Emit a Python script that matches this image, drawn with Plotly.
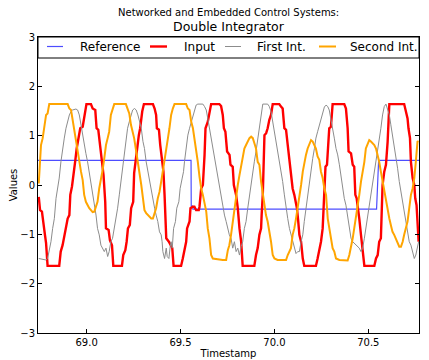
import plotly.graph_objects as go

# ---------------- data ----------------
ref_t = [68.74, 69.556, 69.557, 69.565, 69.566, 70.544, 70.555, 70.78]
ref_v = [0.5, 0.5, -0.43, -0.43, -0.49, -0.49, 0.5, 0.5]

input_t = [68.745, 68.752, 68.762, 68.769, 68.778, 68.784, 68.792, 68.854, 68.862, 68.872,
           68.881, 68.890, 68.899, 68.908, 68.913, 68.922, 68.931, 68.940, 68.947, 68.957,
           68.966, 68.979, 68.984, 68.993, 68.999, 69.023, 69.032, 69.046, 69.053, 69.062,
           69.071, 69.081, 69.090, 69.099, 69.103, 69.117, 69.124, 69.135, 69.142, 69.188,
           69.195, 69.206, 69.213, 69.220, 69.230, 69.237, 69.248, 69.253, 69.260, 69.268,
           69.278, 69.285, 69.296, 69.305, 69.353, 69.362, 69.370, 69.374, 69.385, 69.392,
           69.402, 69.409, 69.415, 69.420, 69.424, 69.438, 69.447, 69.456, 69.463, 69.503,
           69.512, 69.521, 69.530, 69.535, 69.548, 69.553, 69.565, 69.574, 69.583, 69.597,
           69.601, 69.610, 69.619, 69.628, 69.633, 69.645, 69.654, 69.663, 69.707, 69.716,
           69.725, 69.731, 69.739, 69.748, 69.761, 69.766, 69.778, 69.784, 69.796, 69.805,
           69.814, 69.823, 69.831, 69.893, 69.902, 69.911, 69.920, 69.929, 69.932, 69.938,
           69.943, 69.947, 69.956, 69.964, 69.973, 69.982, 69.991, 70.026, 70.035, 70.044,
           70.053, 70.062, 70.071, 70.080, 70.088, 70.097, 70.106, 70.115, 70.120, 70.127,
           70.133, 70.142, 70.151, 70.159, 70.221, 70.230, 70.239, 70.248, 70.257, 70.263,
           70.268, 70.272, 70.280, 70.292, 70.301, 70.310, 70.372, 70.381, 70.390, 70.395,
           70.408, 70.417, 70.425, 70.431, 70.438, 70.443, 70.452, 70.461, 70.470, 70.479,
           70.532, 70.541, 70.550, 70.558, 70.567, 70.573, 70.576, 70.585, 70.594, 70.603,
           70.608, 70.612, 70.691, 70.697, 70.709, 70.714, 70.722, 70.727, 70.736, 70.745,
           70.750, 70.757, 70.762, 70.768]
input_v = [-0.24, -0.51, -0.54, -0.81, -1.01, -1.18, -1.64, -1.64, -1.35, -1.22,
           -1.01, -0.88, -0.68, -0.61, -0.20, -0.03, 0.20, 0.51, 0.74, 0.95,
           1.15, 1.18, 1.32, 1.52, 1.64, 1.64, 1.55, 1.52, 1.15, 1.12,
           0.81, 0.47, 0.20, -0.34, -0.88, -0.91, -1.12, -1.22, -1.64, -1.64,
           -1.42, -1.32, -1.15, -0.88, -0.81, -0.47, -0.34, 0.24, 0.47, 0.81,
           1.01, 1.15, 1.49, 1.64, 1.64, 1.55, 1.42, 1.15, 1.12, 0.81,
           0.54, 0.27, -0.20, -0.61, -1.08, -1.15, -1.22, -1.28, -1.64, -1.64,
           -1.49, -1.35, -1.15, -0.88, -0.74, -0.47, -0.44, -0.44, -0.51, -0.51,
           -0.44, -0.07, 0.00, 0.61, 1.15, 1.28, 1.49, 1.64, 1.64, 1.60,
           1.42, 1.15, 1.08, 0.68, 0.61, 0.41, 0.37, 0.00, -0.20, -0.47,
           -0.88, -1.15, -1.64, -1.64, -1.42, -1.28, -1.01, -0.88, -0.61, -0.20,
           0.47, 1.01, 1.05, 1.15, 1.32, 1.42, 1.64, 1.64, 1.59, 1.55,
           1.15, 1.12, 0.81, 0.51, 0.20, -0.07, -0.20, -0.34, -0.47, -0.74,
           -1.01, -1.15, -1.49, -1.64, -1.64, -1.49, -1.35, -1.15, -0.88, -0.40,
           0.10, 0.37, 0.41, 1.15, 1.18, 1.64, 1.64, 1.55, 1.15, 0.68,
           0.64, 0.41, 0.37, -0.20, -0.27, -0.47, -0.68, -1.01, -1.28, -1.64,
           -1.64, -1.49, -1.42, -1.15, -1.08, -0.20, 0.00, 0.27, 0.41, 0.88,
           1.42, 1.64, 1.64, 1.55, 1.35, 1.15, 0.95, 0.47, 0.14, 0.00,
           -0.27, -0.41, -0.74, -1.15]

first_t = [68.745, 68.784, 68.792, 68.801, 68.810, 68.819, 68.828, 68.837, 68.846, 68.854,
           68.863, 68.872, 68.881, 68.890, 68.899, 68.908, 68.917, 68.925, 68.943, 68.952,
           68.961, 68.970, 68.979, 68.987, 68.996, 69.005, 69.014, 69.023, 69.032, 69.041,
           69.050, 69.058, 69.067, 69.076, 69.085, 69.094, 69.103, 69.112, 69.120, 69.129,
           69.138, 69.147, 69.156, 69.165, 69.174, 69.183, 69.191, 69.200, 69.209, 69.218,
           69.227, 69.236, 69.245, 69.255, 69.264, 69.273, 69.282, 69.291, 69.300, 69.308,
           69.317, 69.326, 69.335, 69.344, 69.353, 69.362, 69.370, 69.379, 69.388, 69.397,
           69.402, 69.406, 69.415, 69.424, 69.429, 69.438, 69.445, 69.450, 69.456, 69.463,
           69.473, 69.480, 69.491, 69.498, 69.509, 69.516, 69.521, 69.530, 69.539, 69.548,
           69.557, 69.566, 69.574, 69.583, 69.592, 69.619, 69.628, 69.637, 69.645, 69.654,
           69.663, 69.672, 69.681, 69.690, 69.699, 69.707, 69.716, 69.725, 69.734, 69.743,
           69.752, 69.760, 69.769, 69.778, 69.787, 69.796, 69.805, 69.814, 69.823, 69.831,
           69.840, 69.849, 69.858, 69.867, 69.876, 69.885, 69.893, 69.902, 69.911, 69.920,
           69.929, 69.938, 69.964, 69.973, 69.982, 69.991, 70.000, 70.009, 70.017, 70.026,
           70.035, 70.044, 70.053, 70.062, 70.071, 70.080, 70.088, 70.097, 70.106, 70.115,
           70.124, 70.133, 70.142, 70.151, 70.159, 70.168, 70.177, 70.186, 70.195, 70.204,
           70.213, 70.221, 70.230, 70.239, 70.248, 70.257, 70.266, 70.275, 70.284, 70.292,
           70.301, 70.310, 70.319, 70.328, 70.337, 70.346, 70.354, 70.363, 70.372, 70.381,
           70.390, 70.399, 70.408, 70.417, 70.425, 70.434, 70.443, 70.452, 70.461, 70.470,
           70.479, 70.487, 70.496, 70.505, 70.514, 70.523, 70.532, 70.541, 70.550, 70.558,
           70.567, 70.576, 70.585, 70.594, 70.603, 70.612, 70.620, 70.629, 70.638, 70.647,
           70.656, 70.665, 70.674, 70.683, 70.691, 70.700, 70.709, 70.718, 70.727, 70.736,
           70.745, 70.753, 70.762, 70.768]
first_v = [-1.49, -1.52, -1.49, -1.35, -1.15, -0.88, -0.68, -0.27, -0.07, 0.14,
           0.47, 0.74, 0.95, 1.15, 1.28, 1.42, 1.49, 1.52, 1.54, 1.52,
           1.42, 1.22, 0.95, 0.81, 0.64, 0.47, 0.27, 0.00, -0.20, -0.41,
           -0.61, -0.88, -1.01, -1.22, -1.28, -1.35, -1.28, -1.45, -1.35, -1.15,
           -1.08, -0.88, -0.74, -0.47, -0.20, 0.07, 0.27, 0.61, 0.88, 1.15,
           1.28, 1.42, 1.52, 1.55, 1.52, 1.42, 1.28, 1.15, 0.88, 0.74,
           0.47, 0.27, 0.07, -0.07, -0.27, -0.47, -0.61, -0.74, -0.95, -1.01,
           -1.15, -1.35, -1.49, -1.28, -1.45, -1.49, -1.25, -1.15, -1.28, -0.88,
           -0.74, -0.47, -0.34, -0.07, 0.14, 0.27, 0.47, 0.74, 1.01, 1.15,
           1.28, 1.42, 1.52, 1.62, 1.64, 1.64, 1.59, 1.52, 1.35, 1.15,
           0.95, 0.74, 0.54, 0.34, 0.14, -0.07, -0.20, -0.41, -0.61, -0.74,
           -0.88, -1.01, -1.08, -1.28, -1.15, -1.35, -1.28, -1.42, -1.25, -1.15,
           -0.88, -0.74, -0.47, -0.20, 0.00, 0.27, 0.47, 0.68, 0.95, 1.15,
           1.42, 1.64, 1.64, 1.59, 1.49, 1.28, 1.08, 0.95, 0.74, 0.47,
           0.27, 0.07, -0.20, -0.47, -0.68, -0.88, -1.01, -1.15, -1.28, -1.39,
           -1.35, -1.35, -1.15, -1.01, -0.74, -0.47, -0.20, 0.00, 0.27, 0.54,
           0.74, 0.95, 1.08, 1.22, 1.35, 1.49, 1.58, 1.62, 1.59, 1.52,
           1.35, 1.15, 0.95, 0.74, 0.61, 0.41, 0.20, -0.07, -0.27, -0.41,
           -0.61, -0.88, -1.08, -1.15, -1.18, -1.22, -1.25, -1.28, -1.35, -1.28,
           -1.08, -0.88, -0.68, -0.41, -0.20, 0.00, 0.20, 0.47, 0.68, 0.95,
           1.15, 1.42, 1.59, 1.64, 1.55, 1.42, 1.22, 1.01, 0.81, 0.61,
           0.34, 0.07, -0.14, -0.34, -0.61, -0.81, -1.01, -1.15, -1.22, -1.35,
           -1.49, -1.42, -1.28, -1.15]

second_t = [68.745, 68.757, 68.766, 68.775, 68.784, 68.792, 68.801, 68.899, 68.908, 68.917,
            68.925, 68.934, 68.943, 68.952, 68.961, 68.970, 68.979, 68.987, 68.996, 69.005,
            69.014, 69.023, 69.032, 69.041, 69.050, 69.058, 69.067, 69.076, 69.085, 69.094,
            69.103, 69.112, 69.120, 69.129, 69.138, 69.147, 69.209, 69.218, 69.227, 69.236,
            69.245, 69.253, 69.264, 69.273, 69.282, 69.291, 69.300, 69.308, 69.317, 69.326,
            69.335, 69.344, 69.353, 69.362, 69.370, 69.379, 69.388, 69.397, 69.406, 69.415,
            69.424, 69.433, 69.441, 69.450, 69.459, 69.468, 69.530, 69.539, 69.548, 69.557,
            69.566, 69.574, 69.583, 69.592, 69.601, 69.610, 69.619, 69.628, 69.637, 69.645,
            69.654, 69.663, 69.672, 69.725, 69.743, 69.752, 69.760, 69.769, 69.778, 69.787,
            69.796, 69.805, 69.814, 69.823, 69.831, 69.840, 69.849, 69.858, 69.867, 69.876,
            69.885, 69.893, 69.902, 69.911, 69.920, 69.929, 69.938, 69.947, 69.955, 69.964,
            69.973, 69.982, 69.991, 70.000, 70.017, 70.062, 70.071, 70.080, 70.088, 70.097,
            70.106, 70.115, 70.124, 70.133, 70.142, 70.151, 70.159, 70.168, 70.177, 70.186,
            70.195, 70.204, 70.213, 70.221, 70.230, 70.239, 70.248, 70.257, 70.266, 70.275,
            70.284, 70.292, 70.301, 70.310, 70.319, 70.328, 70.346, 70.390, 70.399, 70.408,
            70.417, 70.425, 70.434, 70.443, 70.452, 70.461, 70.470, 70.479, 70.487, 70.496,
            70.505, 70.514, 70.523, 70.532, 70.541, 70.550, 70.558, 70.567, 70.576, 70.585,
            70.594, 70.603, 70.612, 70.620, 70.629, 70.638, 70.647, 70.656, 70.665, 70.674,
            70.683, 70.691, 70.700, 70.709, 70.718, 70.727, 70.736, 70.745, 70.753, 70.762,
            70.768]
second_v = [0.03, 0.81, 0.95, 1.15, 1.42, 1.45, 1.64, 1.64, 1.55, 1.52,
            1.32, 1.12, 0.95, 0.74, 0.51, 0.27, 0.10, -0.20, -0.34, -0.41,
            -0.47, -0.51, -0.55, -0.54, -0.41, -0.34, -0.07, 0.10, 0.30, 0.54,
            0.81, 0.95, 1.08, 1.42, 1.52, 1.64, 1.64, 1.52, 1.45, 1.22,
            1.08, 0.95, 0.68, 0.47, 0.20, 0.00, -0.27, -0.51, -0.57, -0.61,
            -0.64, -0.68, -0.68, -0.57, -0.47, -0.27, -0.14, 0.07, 0.27, 0.47,
            0.68, 0.95, 1.15, 1.42, 1.55, 1.64, 1.64, 1.55, 1.52, 1.28,
            1.15, 0.95, 0.68, 0.47, 0.17, -0.07, -0.20, -0.41, -0.54, -0.88,
            -1.08, -1.42, -1.49, -1.52, -1.52, -1.32, -1.22, -1.01, -0.74, -0.47,
            -0.20, 0.00, 0.20, 0.41, 0.61, 0.74, 0.81, 0.88, 0.95, 0.98,
            0.95, 0.85, 0.74, 0.47, 0.41, 0.07, -0.20, -0.41, -0.61, -0.74,
            -0.91, -1.15, -1.42, -1.49, -1.52, -1.52, -1.42, -1.35, -1.28, -1.01,
            -0.88, -0.68, -0.47, -0.20, 0.00, 0.27, 0.47, 0.61, 0.74, 0.85,
            0.91, 0.88, 0.81, 0.74, 0.58, 0.51, 0.27, 0.14, -0.07, -0.20,
            -0.68, -0.88, -1.15, -1.28, -1.35, -1.49, -1.52, -1.53, -1.42, -1.28,
            -1.08, -0.88, -0.68, -0.41, -0.20, 0.07, 0.27, 0.47, 0.74, 0.85,
            0.91, 0.88, 0.85, 0.81, 0.74, 0.61, 0.47, 0.27, 0.07, -0.14,
            -0.34, -0.47, -0.68, -0.81, -0.95, -1.01, -1.08, -1.15, -1.25, -1.25,
            -1.15, -1.01, -0.88, -0.74, -0.47, -0.20, -0.07, 0.14, 0.47, 0.88,
            0.89]

x_ticks = [69.0, 69.5, 70.0, 70.5]
x_labels = ["69.0", "69.5", "70.0", "70.5"]
y_ticks = [-3, -2, -1, 0, 1, 2, 3]
y_labels = ["\u22123", "\u22122", "\u22121", "0", "1", "2", "3"]

series_names = ["Reference", "Input", "First Int.", "Second Int."]
series_colors = ["#4d4dff", "#ff0000", "#8c8c8c", "#ffa500"]
series_widths = [1.2, 2.4, 1.0, 2.0]

# ---------------- figure ----------------
FONT = "DejaVu Sans"
fig = go.Figure()
series = [(ref_t, ref_v), (input_t, input_v), (first_t, first_v), (second_t, second_v)]
for (t, v), name, col, w in zip(series, series_names, series_colors, series_widths):
    fig.add_trace(go.Scatter(x=t, y=v, mode="lines", name=name,
                             line=dict(color=col, width=w), showlegend=False))

W, H = 429, 360
ml, mr, mt, mb = 38, 10, 37, 27
pw, ph = W - ml - mr, H - mt - mb

def px(xp):
    return (xp - ml) / pw

def py(yp):
    return (H - mb - yp) / ph

shapes = [dict(type="rect", xref="paper", yref="paper", x0=0, x1=1, y0=py(58), y1=1,
               line=dict(color="black", width=1), fillcolor="white", layer="above")]
annotations = []
legend_line_x = [(47, 63), (150, 167), (225, 241), (319, 336)]
legend_text_x = [78, 182, 255, 348]
ly = py(46.5)
for (a, b), tx, name, col, w in zip(legend_line_x, legend_text_x, series_names,
                                    series_colors, series_widths):
    shapes.append(dict(type="line", xref="paper", yref="paper", x0=px(a), x1=px(b),
                       y0=ly, y1=ly, line=dict(color=col, width=w), layer="above"))
    annotations.append(dict(xref="paper", yref="paper", x=px(tx), y=ly, text=name,
                            showarrow=False, xanchor="left", yanchor="middle",
                            font=dict(family=FONT, size=12, color="black")))

annotations.append(dict(xref="paper", yref="paper", x=0.5, y=py(12.5),
                        text="Networked and Embedded Control Systems:", showarrow=False,
                        xanchor="center", yanchor="middle",
                        font=dict(family=FONT, size=10, color="black")))
annotations.append(dict(xref="paper", yref="paper", x=0.5, y=py(26.5),
                        text="Double Integrator", showarrow=False,
                        xanchor="center", yanchor="middle",
                        font=dict(family=FONT, size=12.5, color="black")))

axis_common = dict(showgrid=False, zeroline=False, showline=True, linecolor="black",
                   linewidth=1, mirror="ticks", ticks="inside", ticklen=4,
                   tickcolor="black", automargin=False,
                   tickfont=dict(family=FONT, size=10, color="black"))

fig.update_layout(
    width=W, height=H,
    margin=dict(l=ml, r=mr, t=mt, b=mb, pad=0),
    paper_bgcolor="white", plot_bgcolor="white",
    font=dict(family=FONT, color="black"),
    xaxis=dict(range=[68.741, 70.77], tickvals=x_ticks, ticktext=x_labels,
               title=dict(text="Timestamp", standoff=2,
                          font=dict(family=FONT, size=10, color="black")),
               **axis_common),
    yaxis=dict(range=[-3, 3], tickvals=y_ticks, ticktext=y_labels,
               title=dict(text="Values", standoff=0,
                          font=dict(family=FONT, size=10, color="black")),
               **axis_common),
    shapes=shapes, annotations=annotations, showlegend=False,
)

fig.write_html("out.html", config={"displayModeBar": False},
               post_script="document.body.style.margin='0';document.body.style.overflow='hidden';")
